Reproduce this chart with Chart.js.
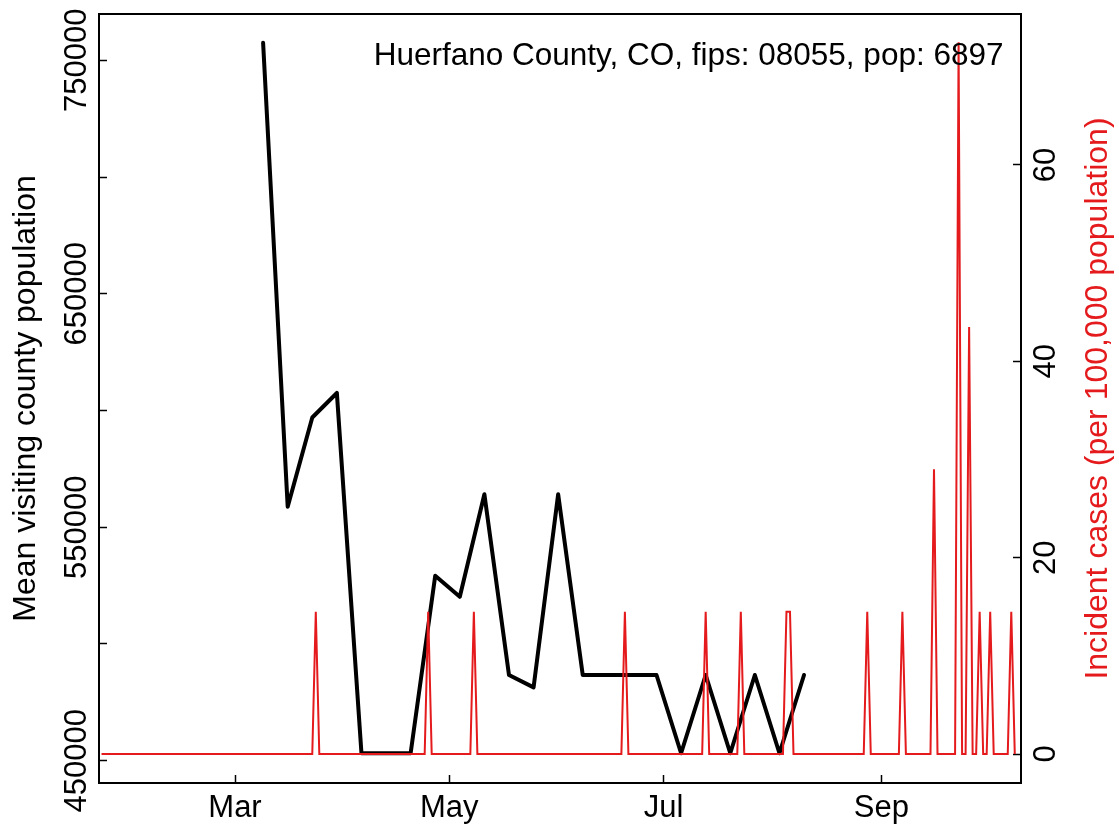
<!DOCTYPE html>
<html>
<head>
    <title>Huerfano County, CO</title>
    <script src="https://cdn.jsdelivr.net/npm/chart.js"></script>
    <style>
        body { margin: 0; background: #fff; }
    </style>
</head>
<body>
    <canvas id="countyChart" width="1119" height="831"></canvas>

    <script>
        // days are counted from Mar 1 (2020)
        const visitDays = [8, 15, 22, 29, 36, 43, 50, 57, 64, 71, 78, 85, 92, 99, 106, 113, 120, 127, 134, 141, 148, 155, 162];
        const visitValues = [757500, 558800, 597000, 607500, 453200, 453200, 453200, 529200, 520200, 564100, 486700, 481400,
                             564100, 486700, 486700, 486700, 486700, 453200, 486700, 453200, 486700, 453200, 486700];

        // incident cases per 100,000 (only the days where the line turns)
        const caseDays = [-38, 22, 23, 24, 54, 55, 56, 67, 68, 69, 110, 111, 112, 133, 134, 135, 143, 144, 145,
                          156, 157, 158, 159, 179, 180, 181, 189, 190, 191, 198, 199, 200, 205, 206, 207, 208, 209,
                          210, 211, 212, 213, 214, 215, 216, 220, 221, 222];
        const caseValues = [0, 0, 14.5, 0, 0, 14.5, 0, 0, 14.5, 0, 0, 14.5, 0, 0, 14.5, 0, 0, 14.5, 0,
                            0, 14.5, 14.5, 0, 0, 14.5, 0, 0, 14.5, 0, 0, 29, 0, 0, 72.5, 0, 0, 43.5,
                            0, 0, 14.5, 0, 0, 14.5, 0, 0, 14.5, 0];

        const monthTickDays = [0, 61, 122, 184];
        const monthTickLabels = ['Mar', 'May', 'Jul', 'Sep'];
        const visitTicks = [450000, 500000, 550000, 600000, 650000, 700000, 750000];
        const visitTickLabels = ['450000', '', '550000', '', '650000', '', '750000'];
        const caseTicks = [0, 20, 40, 60];
        const caseTickLabels = ['0', '20', '40', '60'];

        const annotation = 'Huerfano County, CO, fips: 08055, pop: 6897';
        const leftTitle = 'Mean visiting county population';
        const rightTitle = 'Incident cases (per 100,000 population)';

        const FONT = '"Liberation Sans", Arial, sans-serif';
        const RED = '#e41a1c';

        // frame, axis titles and the county note
        const extrasPlugin = {
            id: 'extras',
            afterDraw(chart) {
                const ctx = chart.ctx;
                const a = chart.chartArea;
                ctx.save();
                ctx.strokeStyle = '#000';
                ctx.lineWidth = 2;
                ctx.strokeRect(a.left, a.top, a.right - a.left, a.bottom - a.top);

                ctx.fillStyle = '#000';
                ctx.font = '31.5px ' + FONT;
                ctx.textAlign = 'right';
                ctx.textBaseline = 'alphabetic';
                ctx.fillText(annotation, a.right - 17.5, a.top + 51);

                const midY = (a.top + a.bottom) / 2;
                ctx.font = '32px ' + FONT;
                ctx.textAlign = 'center';
                ctx.save();
                ctx.translate(35, midY);
                ctx.rotate(-Math.PI / 2);
                ctx.fillText(leftTitle, 0, 0);
                ctx.restore();

                ctx.fillStyle = RED;
                ctx.save();
                ctx.translate(1107, midY);
                ctx.rotate(-Math.PI / 2);
                ctx.fillText(rightTitle, 0, 0);
                ctx.restore();
                ctx.restore();
            }
        };

        const tickGrid = {
            drawOnChartArea: false,
            drawTicks: true,
            tickLength: -8,
            tickWidth: 1.5,
            tickColor: '#000'
        };

        const ctx = document.getElementById('countyChart').getContext('2d');
        new Chart(ctx, {
            type: 'line',
            data: {
                datasets: [{
                    label: 'Incident cases',
                    data: caseDays.map((d, i) => ({ x: d, y: caseValues[i] })),
                    yAxisID: 'yCases',
                    borderColor: RED,
                    borderWidth: 2,
                    pointRadius: 0,
                    tension: 0,
                    order: 0
                }, {
                    label: 'Mean visiting county population',
                    data: visitDays.map((d, i) => ({ x: d, y: visitValues[i] })),
                    yAxisID: 'yVisits',
                    borderColor: '#000',
                    borderWidth: 4,
                    borderJoinStyle: 'round',
                    borderCapStyle: 'round',
                    pointRadius: 0,
                    tension: 0,
                    order: 1
                }]
            },
            options: {
                responsive: false,
                animation: false,
                events: [],
                layout: { padding: { top: 14, left: 0, right: 0, bottom: 0 } },
                plugins: { legend: { display: false }, tooltip: { enabled: false } },
                scales: {
                    x: {
                        type: 'linear',
                        position: 'bottom',
                        min: -38.72,
                        max: 223.77,
                        afterBuildTicks: s => { s.ticks = monthTickDays.map(v => ({ value: v })); },
                        afterFit: s => { s.height = 48; s.paddingLeft = 0; s.paddingRight = 0; },
                        ticks: {
                            callback: (v, i) => monthTickLabels[i],
                            autoSkip: false,
                            maxRotation: 0,
                            padding: 15,
                            color: '#000',
                            font: { size: 31, family: FONT }
                        },
                        grid: tickGrid,
                        border: { display: false }
                    },
                    yVisits: {
                        type: 'linear',
                        position: 'left',
                        min: 440449,
                        max: 769831,
                        afterBuildTicks: s => { s.ticks = visitTicks.map(v => ({ value: v })); },
                        afterFit: s => { s.width = 99; s.paddingTop = 0; s.paddingBottom = 0; },
                        ticks: {
                            callback: (v, i) => visitTickLabels[i],
                            autoSkip: false,
                            minRotation: 90,
                            maxRotation: 90,
                            crossAlign: 'center',
                            padding: -22.3,
                            color: '#000',
                            font: { size: 31, family: FONT }
                        },
                        grid: tickGrid,
                        border: { display: false }
                    },
                    yCases: {
                        type: 'linear',
                        position: 'right',
                        min: -2.954,
                        max: 75.38,
                        afterBuildTicks: s => { s.ticks = caseTicks.map(v => ({ value: v })); },
                        afterFit: s => { s.width = 98; s.paddingTop = 0; s.paddingBottom = 0; },
                        ticks: {
                            callback: (v, i) => caseTickLabels[i],
                            autoSkip: false,
                            minRotation: 90,
                            maxRotation: 90,
                            crossAlign: 'center',
                            padding: 15.8,
                            color: '#000',
                            font: { size: 31, family: FONT }
                        },
                        grid: tickGrid,
                        border: { display: false }
                    }
                }
            },
            plugins: [extrasPlugin]
        });
    </script>
</body>
</html>
